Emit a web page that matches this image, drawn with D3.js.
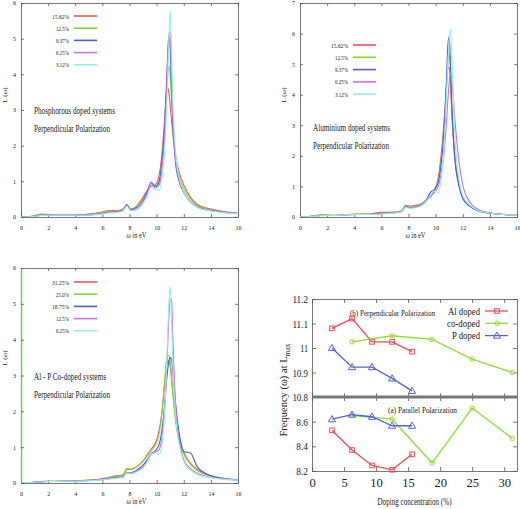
<!DOCTYPE html>
<html><head><meta charset="utf-8">
<script src="https://cdn.jsdelivr.net/npm/d3@7"></script>
<style>
body{margin:0;background:#fff}
text{font-family:"Liberation Serif","DejaVu Serif",serif;fill:#222}
</style></head>
<body><svg id="c" width="520" height="509"></svg>
<script>
// ---------- data ----------
const EV = [0,0.5,1,1.5,2,2.5,3,4,5,6,6.5,7,7.5,7.8,8.1,8.5,9,9.3,9.6,9.9,10.2,10.4,10.6,10.7,10.8,10.9,11.0,11.1,11.2,11.4,11.7,12,12.5,13,14,15,16];
const EV_TICKS = [0,2,4,6,8,10,12,14,16];

const SINGLE_LABELS = ["15.62%","12.5%","9.37%","6.25%","3.12%"];
const CO_LABELS = ["31.25%","25.0%","18.75%","12.5%","6.25%"];

// Phosphorous doped
const P_1562 = [0,0,0.04,0.08,0.07,0.05,0.05,0.05,0.08,0.14,0.18,0.18,0.22,0.33,0.22,0.3,0.55,0.75,0.88,0.9,1.2,1.8,2.8,3.4,3.62,3.5,3.1,2.7,2.3,1.7,1.2,0.9,0.55,0.35,0.22,0.15,0.1];
const P_125  = [0,0,0.03,0.07,0.07,0.05,0.05,0.05,0.07,0.12,0.16,0.16,0.2,0.33,0.2,0.28,0.5,0.7,0.86,0.88,1.05,1.6,2.5,3.2,3.9,4.22,4.0,3.3,2.6,1.7,1.1,0.8,0.5,0.32,0.2,0.14,0.1];
const P_937  = [0,0,0.02,0.05,0.06,0.05,0.05,0.05,0.06,0.1,0.13,0.14,0.18,0.35,0.2,0.25,0.45,0.7,0.98,0.85,1.0,1.6,2.6,3.5,4.4,5.05,4.7,3.6,2.6,1.5,0.95,0.68,0.42,0.28,0.18,0.13,0.1];
const P_625  = [0,0,0.02,0.05,0.06,0.05,0.05,0.05,0.06,0.1,0.13,0.14,0.18,0.33,0.19,0.23,0.42,0.65,0.95,0.82,0.9,1.4,2.3,3.2,4.2,5.1,5.2,4.0,2.8,1.6,1.0,0.7,0.43,0.28,0.18,0.13,0.1];
const P_312  = [0,0,0.02,0.04,0.05,0.05,0.05,0.05,0.05,0.08,0.11,0.12,0.16,0.3,0.17,0.2,0.38,0.58,0.85,0.78,0.75,1.1,1.9,2.7,3.7,4.9,5.81,4.6,3.2,1.8,1.05,0.7,0.42,0.27,0.17,0.12,0.09];

// Aluminium doped
const AL_1562 = [0,0.01,0.03,0.07,0.06,0.05,0.06,0.09,0.1,0.15,0.15,0.16,0.2,0.38,0.35,0.38,0.45,0.55,0.65,0.85,1.3,2.0,3.0,3.6,4.3,4.85,4.9,4.3,3.3,2.0,1.1,0.65,0.38,0.24,0.13,0.08,0.05];
const AL_125  = [0,0.01,0.03,0.06,0.06,0.06,0.07,0.1,0.09,0.12,0.13,0.15,0.2,0.38,0.32,0.36,0.45,0.55,0.7,0.85,1.2,1.8,2.7,3.4,4.2,5.0,5.35,4.7,3.6,2.1,1.1,0.65,0.38,0.23,0.13,0.08,0.05];
const AL_937  = [0,0.01,0.02,0.05,0.05,0.05,0.06,0.08,0.08,0.11,0.12,0.14,0.18,0.35,0.3,0.33,0.4,0.55,0.8,0.9,1.15,1.7,2.7,3.5,4.5,5.6,5.9,4.9,3.6,2.0,1.05,0.6,0.36,0.22,0.12,0.08,0.05];
const AL_625  = [0,0.01,0.02,0.05,0.05,0.05,0.06,0.08,0.08,0.11,0.12,0.14,0.18,0.33,0.3,0.34,0.42,0.55,0.68,0.8,1.0,1.4,2.0,2.5,3.1,3.8,4.4,4.7,4.5,3.3,1.9,1.05,0.5,0.28,0.14,0.09,0.06];
const AL_312  = [0,0.01,0.02,0.04,0.05,0.05,0.06,0.08,0.08,0.1,0.11,0.13,0.17,0.32,0.28,0.3,0.38,0.5,0.7,0.85,0.8,1.2,2.2,3.0,4.0,5.0,5.8,6.15,5.2,2.8,1.3,0.7,0.4,0.24,0.13,0.08,0.06];

// Al - P co-doped
const CO_3125 = [0,0.01,0.02,0.04,0.05,0.05,0.05,0.06,0.08,0.12,0.16,0.2,0.22,0.38,0.38,0.45,0.62,0.78,0.95,1.1,1.5,2.0,2.8,3.2,3.38,3.41,3.25,2.9,2.5,1.8,1.2,0.85,0.55,0.38,0.2,0.13,0.08];
const CO_250  = [0,0.01,0.02,0.04,0.05,0.05,0.05,0.06,0.08,0.11,0.15,0.18,0.22,0.4,0.38,0.45,0.6,0.75,0.9,1.05,1.4,2.0,2.9,3.35,3.52,3.58,3.4,3.0,2.5,1.7,1.1,0.8,0.52,0.35,0.19,0.12,0.08];
const CO_1875 = [0,0.01,0.02,0.03,0.04,0.04,0.05,0.05,0.07,0.1,0.13,0.15,0.18,0.28,0.28,0.35,0.5,0.65,0.82,0.9,1.1,1.5,2.2,2.7,3.1,3.4,3.5,3.45,3.1,2.2,1.3,0.88,0.84,0.45,0.2,0.12,0.08];
const CO_125  = [0,0.01,0.02,0.03,0.04,0.04,0.05,0.05,0.07,0.1,0.12,0.14,0.17,0.3,0.28,0.33,0.45,0.6,0.8,0.85,0.95,1.3,2.1,2.8,3.7,4.6,5.15,5.1,4.0,2.2,1.1,0.65,0.4,0.27,0.16,0.11,0.08];
const CO_625  = [0,0.01,0.02,0.03,0.04,0.04,0.05,0.05,0.06,0.09,0.11,0.13,0.15,0.28,0.25,0.3,0.42,0.58,0.8,0.85,0.8,1.1,2.0,2.9,4.0,5.0,5.48,4.6,3.3,1.9,1.0,0.6,0.36,0.24,0.15,0.1,0.08];

// Frequency at L_max vs doping concentration
const CONC_SINGLE = [3.12, 6.25, 9.37, 12.5, 15.62];
const CONC_CO = [6.25, 12.5, 18.75, 25, 31.25];
const PERP_AL = [11.08, 11.12, 11.025, 11.025, 10.985];
const PERP_CO = [11.025, 11.05, 11.035, 10.955, 10.90];
const PERP_P  = [11.0, 10.922, 10.922, 10.876, 10.825];
const PAR_AL  = [8.53, 8.37, 8.245, 8.21, 8.335];
const PAR_CO  = [8.65, 8.62, 8.265, 8.71, 8.465];
const PAR_P   = [8.62, 8.657, 8.64, 8.567, 8.567];
const CONC_TICKS = [0,5,10,15,20,25,30];
const PERP_TICKS = [10.8,10.9,11.0,11.1,11.2];
const PAR_TICKS = [8.2,8.4,8.6];
const FREQ_LEGEND = ["Al doped","co-doped","P doped"];

// ---------- drawing ----------
const COLORS = ["#f4515a","#7fdc22","#4a5ae6","#cc70ee","#8ff3e4"];
const svg = d3.select("#c");
let clipN = 0;

function txt(g, s, x, y, size, anchor, width) {
  const t = g.append("text").attr("x", x).attr("y", y)
    .attr("font-size", size).attr("text-anchor", anchor || "start").text(s);
  if (width) t.attr("textLength", width).attr("lengthAdjust", "spacingAndGlyphs");
  return t;
}

function styleAxis(a, size) {
  a.selectAll("path,line").attr("stroke", "#555").attr("stroke-width", 0.8);
  a.selectAll("text").attr("font-size", size).attr("fill", "#333")
    .attr("font-family", "Liberation Serif");
}

function spectrum(cfg) {
  const g = svg.append("g");
  const x = d3.scaleLinear().domain([0, 16]).range([cfg.x0, cfg.x1]);
  const y = d3.scaleLinear().domain([0, cfg.ymax]).range([cfg.y1, cfg.y0]);
  const yt = d3.range(0, cfg.ymax + 1);
  styleAxis(g.append("g").attr("transform", `translate(0,${cfg.y1})`)
    .call(d3.axisBottom(x).tickValues(EV_TICKS).tickFormat(d3.format("d")).tickSize(-3).tickSizeOuter(0).tickPadding(9)), 6);
  styleAxis(g.append("g").attr("transform", `translate(0,${cfg.y0})`)
    .call(d3.axisTop(x).tickValues(EV_TICKS).tickSize(-3).tickSizeOuter(0).tickFormat("")), 6);
  const la = g.append("g").attr("transform", `translate(${cfg.x0},0)`)
    .call(d3.axisLeft(y).tickValues(yt).tickFormat(d3.format("d")).tickSize(-3).tickSizeOuter(0).tickPadding(5));
  styleAxis(la, 6);
  styleAxis(g.append("g").attr("transform", `translate(${cfg.x1},0)`)
    .call(d3.axisRight(y).tickValues(yt).tickSize(-3).tickSizeOuter(0).tickFormat("")), 6);
  if (cfg.leftColor) la.select(".domain").attr("stroke", cfg.leftColor).attr("stroke-width", 1.4);

  const id = "clip" + (clipN++);
  svg.append("clipPath").attr("id", id).append("rect")
    .attr("x", cfg.x0).attr("y", cfg.y0).attr("width", cfg.x1 - cfg.x0).attr("height", cfg.y1 - cfg.y0);
  const line = d3.line().x(d => x(d[0])).y(d => y(d[1])).curve(d3.curveMonotoneX);
  const lg = g.append("g").attr("clip-path", `url(#${id})`);
  cfg.series.forEach((s, i) => {
    lg.append("path").datum(EV.map((e, k) => [e, s[k]]))
      .attr("d", line).attr("fill", "none").attr("stroke", COLORS[i]).attr("stroke-width", 1.1);
  });
  // legend
  cfg.labels.forEach((lab, i) => {
    const yy = cfg.legY + i * cfg.legDy;
    txt(g, lab, cfg.legX, yy + 2.5, 7, "end", lab.length > 5 ? 17 : 13);
    g.append("line").attr("x1", cfg.legX + 5).attr("x2", cfg.legX + 28)
      .attr("y1", yy).attr("y2", yy).attr("stroke", COLORS[i]).attr("stroke-width", 1.6);
  });
  txt(g, cfg.note1, cfg.noteX, cfg.noteY, 10, "start", cfg.note1W);
  txt(g, cfg.note2, cfg.noteX, cfg.noteY + 18, 10, "start", cfg.note2W);
  txt(g, "ω in eV", (cfg.x0 + cfg.x1) / 2 + 7, cfg.y1 + 21, 8, "middle", 20);
  txt(g, "L (ω)", 0, 0, 7, "middle")
    .attr("transform", `translate(${cfg.x0 - 14},${cfg.labY}) rotate(-90)`);
}

spectrum({x0: 21, x1: 238, y0: 3, y1: 217, ymax: 6,
  series: [P_1562, P_125, P_937, P_625, P_312], labels: SINGLE_LABELS,
  legX: 69, legY: 16, legDy: 12.2,
  note1: "Phosphorous doped systems", note1W: 81,
  note2: "Perpendicular Polarization", note2W: 76, noteX: 34, noteY: 114, labY: 95});

spectrum({x0: 300, x1: 517, y0: 3, y1: 217, ymax: 7,
  series: [AL_1562, AL_125, AL_937, AL_625, AL_312], labels: SINGLE_LABELS,
  legX: 348, legY: 45, legDy: 12.3,
  note1: "Aluminium doped systems", note1W: 77,
  note2: "Perpendicular Polarization", note2W: 76, noteX: 313, noteY: 131, labY: 95});

spectrum({x0: 21, x1: 238, y0: 268, y1: 483, ymax: 6,
  series: [CO_3125, CO_250, CO_1875, CO_125, CO_625], labels: CO_LABELS,
  legX: 69, legY: 282, legDy: 12.2, leftColor: "#6fd030",
  note1: "Al - P Co-doped systems", note1W: 72,
  note2: "Perpendicular Polarization", note2W: 76, noteX: 34, noteY: 380, labY: 358});

// ---------- frequency panel ----------
(function () {
  const g = svg.append("g");
  const x0 = 312, x1 = 517, yTop = 299, yMid = 397, yBot = 471;
  const x = d3.scaleLinear().domain([0, 32]).range([x0, x1]);
  const yA = d3.scaleLinear().domain([10.8, 11.2]).range([yMid, yTop]);
  const yB = d3.scaleLinear().domain([8.2, 8.8]).range([yBot, yMid]);
  const fmt = d => String(Math.round(d * 10) / 10);
  const FS = 11;

  function yAxes(ys, ticks) {
    const a = g.append("g").attr("transform", `translate(${x0},0)`)
      .call(d3.axisLeft(ys).tickValues(ticks).tickFormat(fmt).tickSize(-4).tickSizeOuter(0).tickPadding(4));
    styleAxis(a, FS);
    a.selectAll("text").each(function () {
      const t = d3.select(this); const n = t.text().length;
      t.attr("textLength", n * 3.9).attr("lengthAdjust", "spacingAndGlyphs");
    });
    styleAxis(g.append("g").attr("transform", `translate(${x1},0)`)
      .call(d3.axisRight(ys).tickValues(ticks).tickSize(-4).tickSizeOuter(0).tickFormat("")), FS);
  }
  yAxes(yA, PERP_TICKS);
  yAxes(yB, PAR_TICKS);
  styleAxis(g.append("g").attr("transform", `translate(0,${yBot})`)
    .call(d3.axisBottom(x).tickValues(CONC_TICKS).tickSize(-4).tickSizeOuter(0).tickPadding(7)), 12.5);
  styleAxis(g.append("g").attr("transform", `translate(0,${yTop})`)
    .call(d3.axisTop(x).tickValues(CONC_TICKS).tickSize(-4).tickSizeOuter(0).tickFormat("")), 12);
  styleAxis(g.append("g").attr("transform", `translate(0,${yMid})`)
    .call(d3.axisTop(x).tickValues(CONC_TICKS).tickSize(4).tickSizeOuter(0).tickFormat("")), 12);
  styleAxis(g.append("g").attr("transform", `translate(0,${yMid})`)
    .call(d3.axisBottom(x).tickValues(CONC_TICKS).tickSize(4).tickSizeOuter(0).tickFormat("")), 12);
  g.append("line").attr("x1", x0).attr("x2", x1).attr("y1", yMid).attr("y2", yMid)
    .attr("stroke", "#777").attr("stroke-width", 3);

  const FC = ["#f04a5c", "#8ee02e", "#5563e0"];
  const marker = (sel, k, px, py) => {
    if (k === 0) sel.append("rect").attr("x", px - 2.3).attr("y", py - 2.3).attr("width", 4.6).attr("height", 4.6)
      .attr("fill", "none").attr("stroke", FC[0]).attr("stroke-width", 1);
    else if (k === 1) sel.append("circle").attr("cx", px).attr("cy", py).attr("r", 2.2)
      .attr("fill", "none").attr("stroke", FC[1]).attr("stroke-width", 1);
    else sel.append("path").attr("d", d3.symbol(d3.symbolTriangle, 22)()).attr("transform", `translate(${px},${py + 0.5})`)
      .attr("fill", "none").attr("stroke", FC[2]).attr("stroke-width", 1);
  };
  const series = [
    [CONC_SINGLE, PERP_AL, yA, 0], [CONC_CO, PERP_CO, yA, 1], [CONC_SINGLE, PERP_P, yA, 2],
    [CONC_SINGLE, PAR_AL, yB, 0], [CONC_CO, PAR_CO, yB, 1], [CONC_SINGLE, PAR_P, yB, 2]
  ];
  series.forEach(([xs, ys, sc, k]) => {
    const pts = xs.map((v, i) => [x(v), sc(ys[i])]);
    g.append("path").attr("d", d3.line()(pts)).attr("fill", "none")
      .attr("stroke", FC[k]).attr("stroke-width", 1.3);
    pts.forEach(p => marker(g, k, p[0], p[1]));
  });

  // legend
  const legW = [32, 33, 28];
  FREQ_LEGEND.forEach((lab, i) => {
    const yy = 311 + i * 12.3;
    txt(g, lab, 480, yy + 3.5, 10.5, "end", legW[i]);
    g.append("line").attr("x1", 485).attr("x2", 508).attr("y1", yy).attr("y2", yy)
      .attr("stroke", FC[i]).attr("stroke-width", 1.3);
    marker(g, i, 497, yy);
  });
  txt(g, "(b) Perpendicular Polarization", 350, 316, 8, "start", 85);
  txt(g, "(a) Parallel Polarization", 388, 413, 8.5, "start", 69);
  txt(g, "Doping concentration (%)", (x0 + x1) / 2, 505, 10.5, "middle", 74);
  const yl = txt(g, "Frequency (ω) at L", 0, 0, 10.5, "middle")
    .attr("transform", `translate(287,${(yTop + yBot) / 2 + 5}) rotate(-90)`);
  yl.append("tspan").attr("font-size", 7.5).attr("dy", 3).text("max");
})();
</script></body></html>
